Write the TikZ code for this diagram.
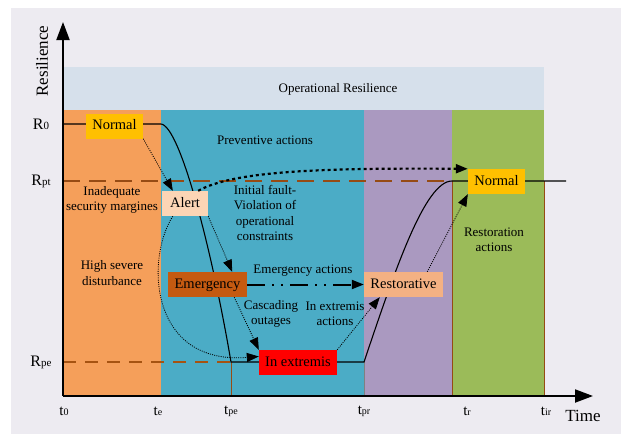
\documentclass[tikz,border=0pt]{standalone}
\usepackage{fontspec}
\setmainfont{Liberation Serif}
\newfontfamily\serifx{Liberation Serif}
\usetikzlibrary{arrows.meta}
\definecolor{bgc}{HTML}{EDEBF1}
\definecolor{opc}{HTML}{D6E0EB}
\definecolor{orc}{HTML}{F59F5A}
\definecolor{tlc}{HTML}{4BACC6}
\definecolor{puc}{HTML}{AA99C0}
\definecolor{grc}{HTML}{9BBB59}
\definecolor{goldc}{HTML}{FFC000}
\definecolor{alc}{HTML}{FCD5B5}
\definecolor{emc}{HTML}{C55A11}
\definecolor{rsc}{HTML}{F4B183}
\definecolor{brc}{HTML}{964B14}
\newcommand\mysub[1]{{\fontsize{11}{11}\selectfont #1}}
\newcommand\tsub[1]{{\fontsize{10}{10}\selectfont #1}}
\begin{document}
\begin{tikzpicture}[x=1pt,y=-1pt,
  box/.style={inner sep=0pt, font=\serifx\fontsize{14.5}{16}\selectfont, text height=10pt, text depth=3pt, minimum height=25pt},
  lbl/.style={align=center, font=\serifx\fontsize{13}{15.5}\selectfont, inner sep=0pt},
  rlab/.style={font=\serifx\fontsize{16}{16}\selectfont, inner sep=0pt},
  tlab/.style={font=\serifx\fontsize{15}{15}\selectfont, inner sep=0pt},
  tip/.style={-{Triangle[length=12pt,width=9pt]}},
  dotarrow/.style={line width=0.8pt, dash pattern=on 1pt off 1.2pt, tip},
  axis/.style={line width=2pt, -{Triangle[length=18pt,width=13pt]}},
  curve/.style={line width=1.1pt},
  vline/.style={brc, line width=0.6pt}]
\useasboundingbox (0,0) rectangle (621,434);
\fill[bgc] (11,8) rectangle (621,434);
\fill[opc] (63,67) rectangle (544,110);
\fill[orc] (63,110) rectangle (161,396);
\fill[tlc] (161,110) rectangle (364,396);
\fill[puc] (364,110) rectangle (452,396);
\fill[grc] (452,110) rectangle (544,396);
% coordinates
\coordinate (o) at (63,396);
\coordinate (ytop) at (63,22);
\coordinate (xend) at (593,396);
\coordinate (r0s) at (63,124);
\coordinate (te0) at (161,124);
\coordinate (pe) at (231,362);
\coordinate (pr) at (364,362);
\coordinate (rr) at (452,181);
\coordinate (rend) at (566,181);
\coordinate (rpts) at (63,181);
\coordinate (rpes) at (63,362);
\coordinate (pebot) at (231,396);
\coordinate (prbot) at (364,396);
\coordinate (rbot) at (452,396);
\coordinate (irtop) at (544,181);
\coordinate (irbot) at (544,396);
% thin vertical lines
\draw[vline] (pe) -- (pebot);
\draw[vline, gray] (pr) -- (prbot);
\draw[vline] (rr) -- (rbot);
\draw[vline] (irtop) -- (irbot);
% dashed levels
\draw[brc, line width=2pt, dash pattern=on 17pt off 9pt] (rpts) -- (rr);
\draw[brc!85!orange, line width=1.8pt, dash pattern=on 13pt off 9pt] (rpes) -- (pe);
% resilience curve
\draw[curve] (r0s) -- (te0) .. controls (180,126) and (212,250) .. (pe) -- (pr)
  .. controls (395,270) and (425,181) .. (rr) -- (rend);
% axes
\draw[axis] (o) -- (ytop);
\draw[axis] (o) -- (xend);
% band text
\node[lbl] (opr) at (338,89) {Operational Resilience};
\node[lbl] (prev) at (265,140) {Preventive actions};
\node[lbl] (inad) at (112,200) {Inadequate\\security margines};
\node[lbl] (high) at (112,273) {High severe\\disturbance};
\node[lbl] (init) at (265,213) {Initial fault-\\Violation of\\operational\\constraints};
\node[lbl] (emact) at (303,271) {Emergency actions};
\node[lbl] (casc) at (271,314) {Cascading\\outages};
\node[lbl] (inact) at (335,314) {In extremis\\actions};
\node[lbl] (resta) at (494,240) {Restoration\\actions};
% axis labels
\node[rlab, rotate=90] (resl) at (42,61) {\fontsize{17}{17}\selectfont Resilience};
\node[tlab] (time) at (583,416) {\fontsize{17}{17}\selectfont Time};
\node[rlab] (lr0) at (41,124) {R\mysub{0}};
\node[rlab] (lrpt) at (41,181) {R\mysub{pt}};
\node[rlab] (lrpe) at (41,362) {R\mysub{pe}};
\node[tlab] (lt0) at (64,411) {t\tsub{0}};
\node[tlab] (lte) at (158,411) {t\tsub{e}};
\node[tlab] (ltpe) at (231,411) {t\tsub{pe}};
\node[tlab] (ltpr) at (364,411) {t\tsub{pr}};
\node[tlab] (ltr) at (467,411) {t\tsub{r}};
\node[tlab] (ltir) at (546,411) {t\tsub{ir}};
% state boxes
\node[box, fill=goldc, minimum width=57pt] (n1) at (114.5,126) {Normal};
\node[box, fill=alc, minimum width=46pt] (al) at (185,203.5) {Alert};
\node[box, fill=emc, minimum width=79pt] (em) at (207.5,284.5) {Emergency};
\node[box, fill=red, minimum width=78pt] (ie) at (298,362.5) {In extremis};
\node[box, fill=rsc, minimum width=79pt] (rs) at (403.5,284.5) {Restorative};
\node[box, fill=goldc, minimum width=57pt] (n2) at (496.5,181.5) {Normal};
% transitions
\draw[dotarrow] (n1.south east) -- ([xshift=11pt]al.north west);
\draw[line width=2.2pt, dash pattern=on 3pt off 3pt, tip] ([xshift=-10pt]al.north east)
  .. controls (235,170) and (330,168) .. (n2.north west);
\draw[dotarrow] (al.south east) -- ([xshift=-15pt]em.north east);
\draw[dotarrow] ([xshift=11pt]al.south west) .. controls (145,260) and (150,365) .. ([yshift=6pt]ie.west);
\draw[dotarrow] ([xshift=-13pt]em.south east) -- (ie.north west);
\draw[line width=2pt, dash pattern=on 18pt off 7pt on 2pt off 7pt on 2pt off 7pt, tip] (em.east) -- (rs.west);
\draw[dotarrow] (ie.north east) -- ([xshift=16pt]rs.south west);
\draw[dotarrow] ([xshift=-16pt]rs.north east) -- (n2.south west);
\end{tikzpicture}
\end{document}
